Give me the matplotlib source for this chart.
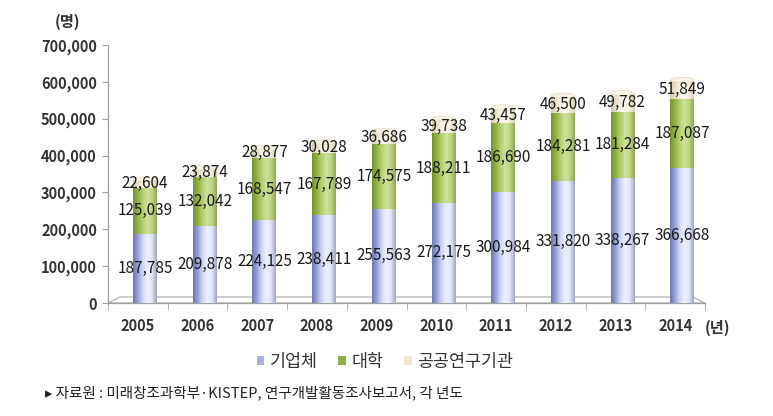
import matplotlib
matplotlib.use("Agg")
import matplotlib.pyplot as plt
import numpy as np
from matplotlib.colors import LinearSegmentedColormap
from matplotlib.patches import Patch, Polygon, Ellipse

plt.rcParams['font.family'] = ['Noto Sans CJK KR', 'DejaVu Sans']

years = ['2005', '2006', '2007', '2008', '2009', '2010', '2011', '2012', '2013', '2014']
corp = [187785, 209878, 224125, 238411, 255563, 272175, 300984, 331820, 338267, 366668]
univ = [125039, 132042, 168547, 167789, 174575, 188211, 186690, 184281, 181284, 187087]
inst = [22604, 23874, 28877, 30028, 36686, 39738, 43457, 46500, 49782, 51849]
series_names = ['기업체', '대학', '공공연구기관']
yticks = [0, 100000, 200000, 300000, 400000, 500000, 600000, 700000]

base_colors = ['#a9b0e0', '#9dbb4e', '#efe7d2']
cmaps = [
    LinearSegmentedColormap.from_list('b', ['#7076ae', '#9aa1d8', '#cfd6f7', '#eef1ff', '#e0e4f7', '#a2a6c0']),
    LinearSegmentedColormap.from_list('g', ['#75932e', '#93b242', '#b5ce70', '#cfe19c', '#bed47f', '#8fa65c']),
    LinearSegmentedColormap.from_list('c', ['#d6cdb0', '#e8e0c8', '#f6f1e4', '#fbf8ef', '#f2ecdc', '#d8d0b8']),
]

fig = plt.figure(figsize=(7.73, 4.16), dpi=100)
W, H = 773, 416
ax = fig.add_axes([108 / W, 1 - 303 / H, (705 - 108) / W, (303 - 45) / H])
ax.set_xlim(-0.5, 9.5)
ax.set_ylim(0, 700000)

x = np.arange(len(years))
shift = 0.12
bw = 0.40
grad = np.linspace(0, 1, 64).reshape(1, -1)

bottoms = np.zeros(len(years))
for vals, cmap, col in zip([corp, univ, inst], cmaps, base_colors):
    vals = np.array(vals, dtype=float)
    bars = ax.bar(x + shift, vals, bw, bottom=bottoms, color=col, linewidth=0, zorder=2)
    for b in bars:
        bx, by = b.get_x(), b.get_y()
        im = ax.imshow(grad, cmap=cmap, aspect='auto', zorder=3,
                       extent=(bx, bx + b.get_width(), by, by + b.get_height()))
        im.set_clip_path(b)
    for xi, bt, v in zip(x, bottoms, vals):
        ax.text(xi + shift, bt + v / 2, f'{int(v):,}', ha='center', va='center',
                fontsize=11, color='#1a1a1a', zorder=6)
    bottoms = bottoms + vals

# top caps of cylinders
cap_h = 700000 * 5 / 258
for xi, t in zip(x, bottoms):
    ax.add_patch(Ellipse((xi + shift, t), bw, cap_h, facecolor='#f7f3e6',
                         edgecolor='#e2dac2', linewidth=0.5, zorder=4))

ax.set_xlim(-0.5, 9.5)
ax.set_ylim(0, 700000)

# floor
tr = ax.transAxes
floor = Polygon([(0, 0), (12 / 597, 6 / 258), (1 - 12 / 597, 6 / 258), (1, 0)],
                closed=True, transform=tr, facecolor='none', edgecolor='#b0b0b0',
                linewidth=0.9, zorder=1, clip_on=False)
ax.add_patch(floor)

for s in ['top', 'right']:
    ax.spines[s].set_visible(False)
ax.spines['left'].set_color('#a0a0a0')
ax.spines['bottom'].set_color('#a0a0a0')
ax.spines['left'].set_linewidth(0.9)
ax.spines['bottom'].set_linewidth(0.9)

ax.set_yticks(yticks)
ax.set_yticklabels([f'{v:,}' for v in yticks], fontsize=10.5, fontweight='bold', color='#333333')
ax.set_xticks(x)
ax.set_xticklabels(years, fontsize=10.5, fontweight='bold', color='#333333')
ax.set_xticks(np.arange(-0.5, 10.0, 1.0), minor=True)
ax.tick_params(axis='x', which='major', length=0, pad=11)
ax.tick_params(axis='x', which='minor', length=5, color='#a0a0a0', direction='out')
ax.tick_params(axis='y', length=4, color='#a0a0a0', pad=4)

fig.text(68 / W, 1 - 22 / H, '(명)', ha='center', va='center', fontsize=11,
         fontweight='bold', color='#333333')
fig.text(718 / W, 1 - 328 / H, '(년)', ha='center', va='center', fontsize=11,
         fontweight='bold', color='#333333')

handles = [Patch(facecolor=c, edgecolor='none') for c in ['#a9b0e0', '#8fb04a', '#efe7d2']]
fig.legend(handles, series_names, loc='center', bbox_to_anchor=(385 / W, 1 - 362 / H),
           ncol=3, frameon=False, fontsize=12.5, handlelength=0.45, handleheight=0.45,
           handletextpad=0.3, columnspacing=1.2, labelcolor='#333333')

fig.text(45 / W, 1 - 393 / H, '▸ 자료원 : 미래창조과학부·KISTEP, 연구개발활동조사보고서, 각 년도',
         ha='left', va='center', fontsize=10.5, color='#222222')

fig.savefig('out.png', dpi=100)
